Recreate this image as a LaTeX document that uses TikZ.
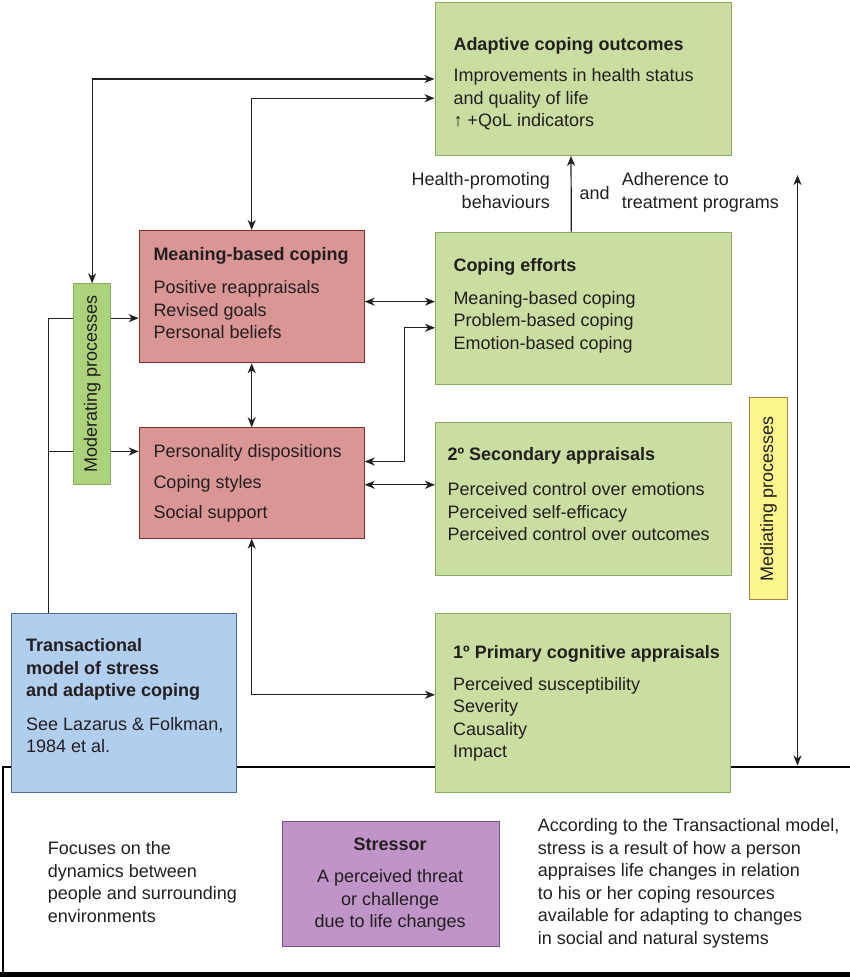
\documentclass[tikz,border=0pt]{standalone}
\usepackage{fontspec}
\setmainfont{Liberation Sans}
\usetikzlibrary{arrows.meta}

\definecolor{inkgray}{RGB}{35,31,32}
\definecolor{boxgreen}{RGB}{201,222,160}
\definecolor{boxgreenline}{RGB}{140,172,96}
\definecolor{modgreen}{RGB}{172,210,124}
\definecolor{boxred}{RGB}{218,150,149}
\definecolor{boxredline}{RGB}{140,45,45}
\definecolor{boxblue}{RGB}{178,206,238}
\definecolor{boxblueline}{RGB}{82,110,158}
\definecolor{boxpurple}{RGB}{191,148,199}
\definecolor{boxpurpleline}{RGB}{118,78,138}
\definecolor{boxyellow}{RGB}{252,247,140}
\definecolor{boxyellowline}{RGB}{172,132,62}

\tikzset{
  box/.style={draw, line width=1pt, anchor=north west, inner sep=0pt},
  greenbox/.style={box, fill=boxgreen, draw=boxgreenline},
  redbox/.style={box, fill=boxred, draw=boxredline},
  txt/.style={anchor=base west, align=left, inner sep=0pt, text=inkgray},
  conn/.style={line width=1.2pt, draw=inkgray},
  arr/.style={conn, -{Stealth[length=10pt,width=8pt,inset=3pt]}},
  darr/.style={conn, {Stealth[length=10pt,width=8pt,inset=3pt]}-{Stealth[length=10pt,width=8pt,inset=3pt]}},
}

\begin{document}
\begin{tikzpicture}[x=1pt,y=-1pt,font=\fontsize{18}{22.5}\selectfont]
        \useasboundingbox (0,0) rectangle (850,978);
        \draw[line width=2pt,draw=black] (850,766.7) -- (2.7,766.7) -- (2.7,974);
        \draw[line width=5pt,draw=black] (0,974) -- (850,974);

        \node[greenbox,minimum width=296,minimum height=153] (OUT) at (434.5,2) {};
        \node[redbox,minimum width=225,minimum height=132.3] (MEAN) at (138.7,230) {};
        \node[redbox,minimum width=225,minimum height=110.4] (PERS) at (138.7,427.3) {};
        \node[greenbox,minimum width=295.7,minimum height=152.6] (EFF) at (435,231.7) {};
        \node[greenbox,minimum width=295.7,minimum height=152.7] (SEC) at (435,422.3) {};
        \node[greenbox,minimum width=295,minimum height=178.4] (PRIM) at (435,613.3) {};
        \node[box,fill=boxblue,draw=boxblueline,minimum width=225.5,minimum height=178.4] (TRANS) at (10.8,613.3) {};
        \node[box,fill=modgreen,draw=boxgreenline,minimum width=36.7,minimum height=200.7] (MOD) at (73.3,283.3) {};
        \node[box,fill=boxyellow,draw=boxyellowline,minimum width=37.4,minimum height=202] (MED) at (749.3,397.3) {};
        \node[box,fill=boxpurple,draw=boxpurpleline,minimum width=217.4,minimum height=125] (STRESS) at (281.8,820.7) {};

        % text nodes are placed by the baseline of their last line
        \node[txt] (OUTT) at (453.3,126.7) {\textbf{Adaptive coping outcomes}\\[9.2pt]Improvements in health status\\and quality of life\\↑ +QoL indicators};
        \node[txt] (MEANT) at (153.3,338.5) {\textbf{Meaning-based coping}\\[11pt]Positive reappraisals\\Revised goals\\Personal beliefs};
        \node[txt] (PERST) at (153.3,518.3) {Personality dispositions\\[8.5pt]Coping styles\\[7.5pt]Social support};
        \node[txt] (EFFT) at (453.3,349.3) {\textbf{Coping efforts}\\[10.8pt]Meaning-based coping\\Problem-based coping\\Emotion-based coping};
        \node[txt] (SECT) at (447.3,540.7) {\textbf{2º Secondary appraisals}\\[12.5pt]Perceived control over emotions\\Perceived self-efficacy\\Perceived control over outcomes};
        \node[txt] (PRIMT) at (453,757.7) {\textbf{1º Primary cognitive appraisals}\\[9.2pt]Perceived susceptibility\\Severity\\Causality\\Impact};
        \node[txt] (TRANST) at (26,752.7) {\textbf{Transactional}\\\textbf{model of stress}\\\textbf{and adaptive coping}\\[11pt]See Lazarus \& Folkman,\\1984 et al.};
        \node[txt,align=center,anchor=base] (STRESST) at (390.2,927.7) {\textbf{Stressor}\\[9.8pt]A perceived threat\\or challenge\\due to life changes};
        \node[txt] (FOCUS) at (47.7,922.3) {Focuses on the\\dynamics between\\people and surrounding\\environments};
        \node[txt] (ACCORD) at (537.7,944) {According to the Transactional model,\\stress is a result of how a person\\appraises life changes in relation\\to his or her coping resources\\available for adapting to changes\\in social and natural systems};
        \node[txt,align=right,anchor=base east] (HEALTH) at (550,208.3) {Health-promoting\\behaviours};
        \node[txt] (AND) at (579.3,199.3) {and};
        \node[txt] (ADHERE) at (621.7,208.3) {Adherence to\\treatment programs};
        \node[text=inkgray,rotate=90,inner sep=0pt] (MODT) at (MOD.center) {Moderating processes};
        \node[text=inkgray,rotate=90,inner sep=0pt] (MEDT) at (MED.center) {Mediating processes};

        \coordinate (MEDTOP) at (797.5,175);
        \coordinate (MEDBOT) at (797.5,765.5);
        \coordinate (TAP) at ([xshift=-75.8pt]TRANS.north);

        \draw[darr] (MOD.north) |- (OUT.west);
        \draw[darr] (MEAN.north) |- ([yshift=-19.2pt]OUT.west);
        \draw[arr] ([xshift=-12pt]EFF.north) -- ([xshift=-12pt]OUT.south);
        \draw[darr] ([yshift=-5pt]MEAN.east) -- ([yshift=-5pt]MEAN.east -| EFF.west);
        \draw[darr] ([yshift=21.5pt]PERS.east) -- ++(39.6,0) |- ([yshift=-19.3pt]EFF.west);
        \draw[darr] ([yshift=-1.8pt]PERS.east) -- ([yshift=-1.8pt]PERS.east -| SEC.west);
        \draw[darr] (MEAN.south) -- (PERS.north);
        \draw[darr] (PERS.south) |- ([yshift=8.2pt]PRIM.west);
        \draw[conn] (TAP) |- ([yshift=66pt]MOD.west);
        \draw[conn] (TAP) |- ([yshift=-67.3pt]MOD.west);
        \draw[arr] ([yshift=66pt]MOD.east) -- ([yshift=66pt]MOD.east -| MEAN.west);
        \draw[arr] ([yshift=-67.3pt]MOD.east) -- ([yshift=-67.3pt]MOD.east -| PERS.west);
        \draw[darr] (MEDBOT) -- (MEDTOP);
\end{tikzpicture}
\end{document}
